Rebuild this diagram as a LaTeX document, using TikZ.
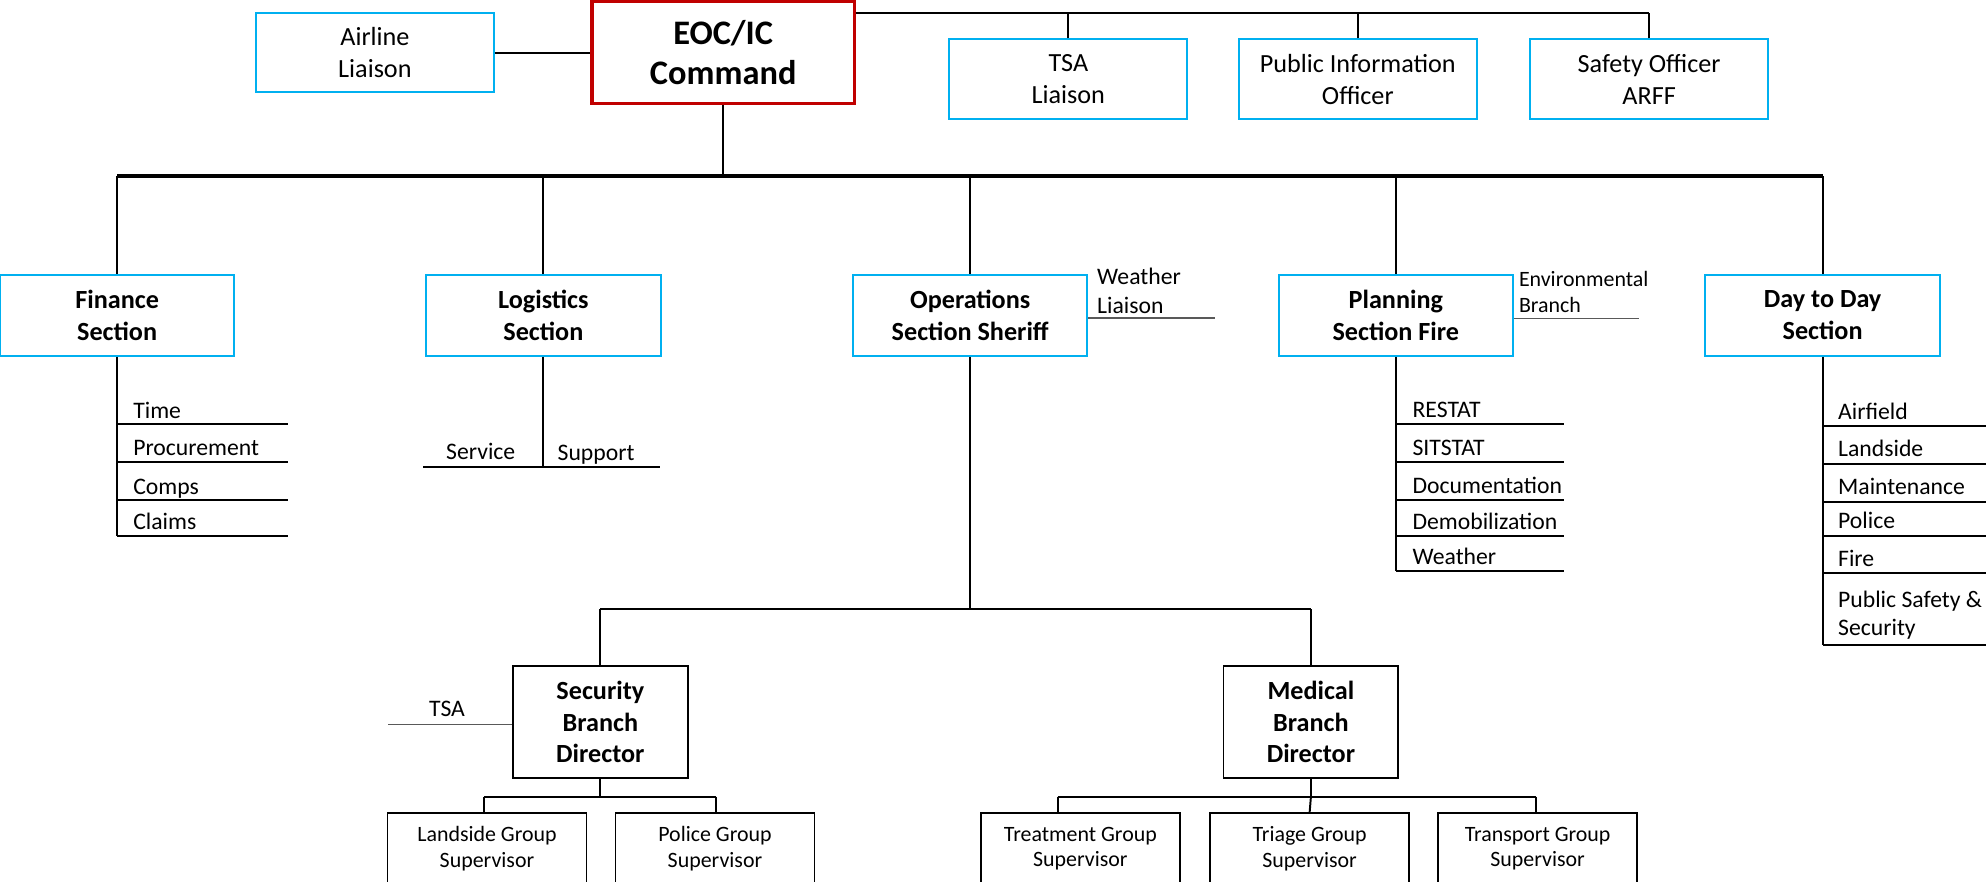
\documentclass[tikz,border=0pt]{standalone}
\usepackage{fontspec}
\setmainfont{Carlito}
\usetikzlibrary{positioning}
\definecolor{boxcyan}{RGB}{0,176,240}
\definecolor{cmdred}{RGB}{192,0,0}

\tikzset{
  link/.style={black, line width=1.1pt},
  bus/.style={black, line width=2pt},
  side/.style={black!65, line width=0.9pt},
  sidebox/.style={draw=boxcyan, line width=1.1pt, fill=white, minimum width=4.7cm, minimum height=1.575cm, inner sep=0pt, align=center, font=\fontsize{14.7}{17.8}\selectfont},
  cmdbox/.style={draw=cmdred, line width=1.8pt, fill=white, minimum width=5.175cm, minimum height=2cm, inner sep=0pt, align=center, font=\fontsize{19.3}{23}\selectfont\bfseries},
  secbox/.style={draw=boxcyan, line width=1.1pt, fill=white, minimum width=4.625cm, minimum height=1.6cm, inner sep=0pt, align=center, font=\fontsize{14.7}{17.8}\selectfont\bfseries},
  brbox/.style={draw=black, line width=1.1pt, fill=white, minimum width=3.45cm, minimum height=2.2cm, inner sep=0pt, align=center, font=\fontsize{14.7}{17.8}\selectfont\bfseries},
  supbox/.style={draw=black, line width=0.9pt, fill=white, minimum width=3.925cm, minimum height=1.4cm, inner sep=0pt, align=center, font=\fontsize{12.3}{14.3}\selectfont},
  item/.style={anchor=base west, inner sep=0pt, align=left, font=\fontsize{13.3}{16.1}\selectfont},
  smallitem/.style={anchor=base west, inner sep=0pt, align=left, font=\fontsize{12.3}{14.6}\selectfont}
}

\begin{document}
\begin{tikzpicture}[x=0.025cm, y=-0.025cm]
\clip (0,0) rectangle (1568,696);

% command and staff
\node[cmdbox] (eoc) at (571,41.5) {EOC/IC\\Command};
\node[sidebox] (air) at (296,41.5) {Airline\\Liaison};
\node[sidebox] (tsa) at (843.5,62.5) {TSA\\Liaison};
\node[sidebox] (pio) at (1072,62.5) {Public Information\\Officer};
\node[sidebox] (saf) at (1302,62.5) {Safety Officer\\ARFF};

\draw[link] (air) -- (eoc);
\coordinate (staff) at (eoc.east |- 0,10);
\draw[link] (staff) -- (staff -| saf.north);
\foreach \s in {tsa,pio,saf} \draw[link] (\s.north) -- (\s.north |- staff);

% sections
\node[secbox] (fin) at (92.5,249) {Finance\\Section};
\node[secbox] (log) at (429,249) {Logistics\\Section};
\node[secbox] (ops) at (766,249) {Operations\\Section Sheriff};
\node[secbox] (pln) at (1102,249) {Planning\\Section Fire};
\node[secbox] (day) at (1439,249) {Day to Day\\Section};

\coordinate (sbus) at (eoc.south |- 0,139);
\draw[link] (eoc.south) -- (sbus);
\draw[bus] (fin.north |- sbus) -- (day.north |- sbus);
\foreach \s in {fin,log,ops,pln,day} \draw[link] (\s.north) -- (\s.north |- sbus);

% finance
\draw[link] (fin.south) -- (fin.south |- 0,423);
\foreach \t/\y [count=\i] in {Time/335,Procurement/364.5,Comps/395,Claims/423}{
  \draw[link] (fin.south |- 0,\y) -- ++(135,0);
  \node[item] (fin\i) at (105,\y-4.8) {\t};
}

% logistics
\draw[link] (log.south) -- (log.south |- 0,369);
\draw[link] (334,369) -- (521,369);
\node[item] (svc) at (352,363) {Service};
\node[item] (sup) at (440,363.5) {Support};

% operations
\node[item] (wxl) at (866,247.4) {Weather\\Liaison};
\draw[side] (ops.east |- 0,251) -- ++(100,0);

\coordinate (obar) at (ops.south |- 0,481);
\node[brbox] (sec) at (474,570) {Security\\Branch\\Director};
\node[brbox] (med) at (1035,570) {Medical\\Branch\\Director};
\draw[link] (ops.south) -- (obar);
\draw[link] (sec.north |- obar) -- (med.north |- obar);
\foreach \s in {sec,med} \draw[link] (\s.north) -- (\s.north |- obar);

\node[item] (tsal) at (338.5,566) {TSA};
\draw[side] (sec.west |- 0,572) -- (306,572);

% groups
\node[supbox] (lgs) at (384.5,670) {Landside Group\\Supervisor};
\node[supbox] (pgs) at (564.5,670) {Police Group\\Supervisor};
\node[supbox] (trt) at (853,670) {Treatment Group\\Supervisor};
\node[supbox] (tri) at (1034,670) {Triage Group\\Supervisor};
\node[supbox] (trn) at (1214,670) {Transport Group\\Supervisor};

\coordinate (sbar) at (sec.south |- 0,629);
\draw[link] (sec.south) -- (sbar);
\draw[link] (382,629) -- (565,629);
\draw[link] (382,629) -- (382,642);
\draw[link] (565,629) -- (565,642);

\coordinate (mbar) at (med.south |- 0,629);
\draw[link] (med.south) -- (mbar);
\draw[link] (835,629) -- (1213,629);
\draw[link] (835,629) -- (835,642);
\draw[link] (mbar) -- (tri.north);
\draw[link] (1213,629) -- (1213,642);

% planning
\node[smallitem] (env) at (1199,246.9) {Environmental\\Branch};
\draw[side] (pln.east |- 0,251.5) -- (1294,251.5);
\draw[link] (pln.south) -- (pln.south |- 0,451);
\foreach \t/\y [count=\i] in {RESTAT/335,SITSTAT/364.5,Documentation/395,Demobilization/423,Weather/451}{
  \draw[link] (pln.south |- 0,\y) -- (1235,\y);
  \node[item] (pln\i) at (1115,\y-5) {\t};
}

% day to day
\draw[link] (day.south) -- (day.south |- 0,509);
\foreach \t/\y [count=\i] in {Airfield/336.5,Landside/366,Maintenance/396,Police/423,Fire/452.5}{
  \draw[link] (day.south |- 0,\y) -- (1568,\y);
  \node[item] (day\i) at (1451,\y-5.5) {\t};
}
\draw[link] (day.south |- 0,509) -- (1568,509);
\node[item] (day6) at (1451,501.9) {Public Safety \&\\Security};

\end{tikzpicture}
\end{document}
